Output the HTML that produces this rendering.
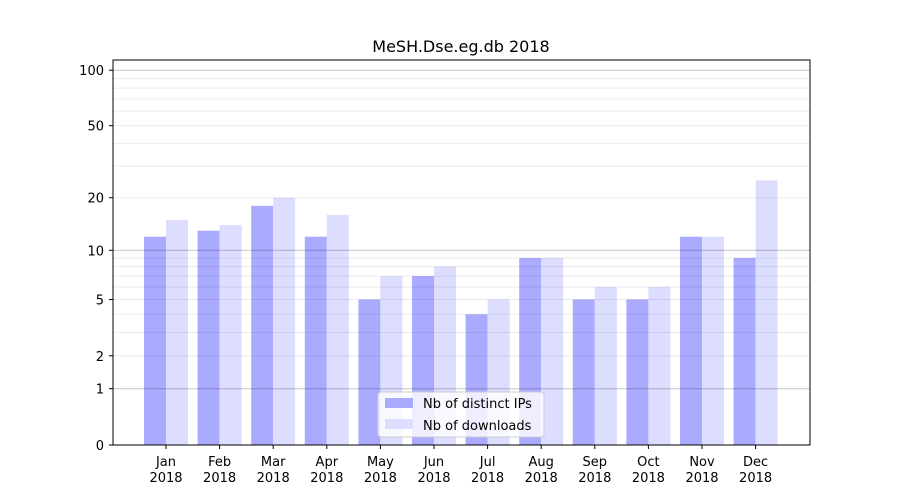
<!DOCTYPE html>
<html><head><meta charset="utf-8"><style>body{margin:0;background:#fff}svg{display:block;font-family:"DejaVu Sans","Liberation Sans",sans-serif}</style></head><body>
<svg width="900" height="500" xmlns="http://www.w3.org/2000/svg">
<rect width="900" height="500" fill="#fff"/>
<g id="bars"></g>
<g id="grid"></g>
<rect x="113" y="60" width="697" height="385" fill="none" stroke="#000" stroke-width="1"/>
<g id="ticks" font-size="13" fill="#000"></g>
<text x="461" y="52" font-size="16" text-anchor="middle">MeSH.Dse.eg.db 2018</text>
<g>
<rect x="378" y="392" width="166" height="45" fill="#fff" fill-opacity="0.8" stroke="#ccc" rx="3"/>
<rect x="385" y="398" width="28" height="10" fill="#aaaaff"/>
<rect x="385" y="419" width="28" height="10" fill="#ddddff"/>
<text x="423" y="408" font-size="13">Nb of distinct IPs</text>
<text x="423" y="430" font-size="13">Nb of downloads</text>
</g>
<script>
const ns="http://www.w3.org/2000/svg";
const Y=v=>445-187*Math.log10(1+v);
function el(p,t,a,txt){const e=document.createElementNS(ns,t);for(const k in a)e.setAttribute(k,a[k]);if(txt!==undefined)e.textContent=txt;document.getElementById(p).appendChild(e);}
for(let d=1;d<=100;d*=10)for(let m=1;m<10;m++){const v=m*d;if(v>110)break;const y=Y(v);
el("grid","line",{x1:113,x2:810,y1:y,y2:y,stroke:"#000","stroke-opacity":m==1?0.22:0.08,"stroke-width":1});}
const ip=[12,13,18,12,5,7,4,9,5,5,12,9],dl=[15,14,20,16,7,8,5,9,6,6,12,25];
const mo=["Jan","Feb","Mar","Apr","May","Jun","Jul","Aug","Sep","Oct","Nov","Dec"];
for(let i=0;i<12;i++){const c=166+i*53.6;
el("bars","rect",{x:c-22,y:Y(ip[i]),width:22,height:445-Y(ip[i]),fill:"#aaaaff"});
el("bars","rect",{x:c,y:Y(dl[i]),width:22,height:445-Y(dl[i]),fill:"#ddddff"});
el("ticks","line",{x1:c,x2:c,y1:445,y2:449,stroke:"#000"});
el("ticks","text",{x:c,y:466,"text-anchor":"middle"},mo[i]);
el("ticks","text",{x:c,y:482,"text-anchor":"middle"},"2018");}
for(const v of [0,1,2,5,10,20,50,100]){const y=Y(v);
el("ticks","line",{x1:109,x2:113,y1:y,y2:y,stroke:"#000"});
el("ticks","text",{x:104,y:y+5,"text-anchor":"end"},String(v));}
</script>
</svg>
</body></html>
